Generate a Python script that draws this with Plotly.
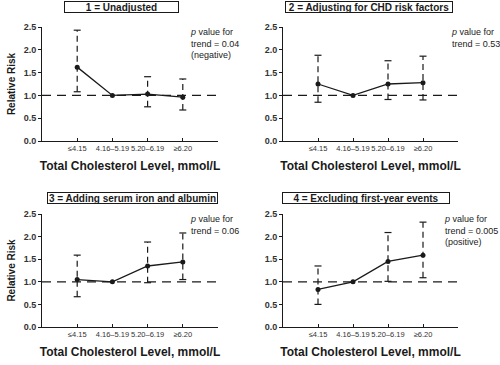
import plotly.graph_objects as go

categories = ["≤4.15", "4.16–5.19", "5.20–6.19", "≥6.20"]

panel_titles = [
    "1 = Unadjusted",
    "2 = Adjusting for CHD risk factors",
    "3 = Adding serum iron and albumin",
    "4 = Excluding first-year events",
]

rr1 = [1.62, 1.00, 1.03, 0.96]
lo1 = [1.08, None, 0.75, 0.68]
hi1 = [2.43, None, 1.41, 1.36]

rr2 = [1.25, 1.00, 1.25, 1.28]
lo2 = [0.85, None, 0.91, 0.90]
hi2 = [1.88, None, 1.76, 1.86]

rr3 = [1.05, 1.00, 1.35, 1.44]
lo3 = [0.67, None, 0.98, 1.05]
hi3 = [1.59, None, 1.88, 2.08]

rr4 = [0.83, 1.00, 1.45, 1.59]
lo4 = [0.50, None, 1.01, 1.09]
hi4 = [1.35, None, 2.09, 2.32]

p_texts = [
    "<i>p</i> value for<br>trend = 0.04<br>(negative)",
    "<i>p</i> value for<br>trend = 0.53",
    "<i>p</i> value for<br>trend = 0.06",
    "<i>p</i> value for<br>trend = 0.005<br>(positive)",
]

y_ticks = [0.0, 0.5, 1.0, 1.5, 2.0, 2.5]

W, H = 500, 365
INK = "#1a1a1a"
FONT = "Liberation Sans, Arial, sans-serif"

# pixel layout of each panel: (x0, x1, ytop, ybottom)
panels_px = [
    (42, 218, 27, 141),
    (283, 458, 27, 141),
    (42, 218, 214, 327),
    (283, 458, 214, 327),
]
box_px = [  # x0, x1, ycenter
    (64, 179, 7.5),
    (285, 453, 7.5),
    (47, 218, 198),
    (282, 450, 197.5),
]
ptext_px = [(188, 25), (449, 25), (188, 212), (442, 212)]

series = [(rr1, lo1, hi1), (rr2, lo2, hi2), (rr3, lo3, hi3), (rr4, lo4, hi4)]

fig = go.Figure()
xpos = list(range(len(categories)))

for i, (rr, lo, hi) in enumerate(series):
    n = "" if i == 0 else str(i + 1)
    xa, ya = "x" + n, "y" + n
    ex, ey = [], []
    cx, cy = [], []
    for k in range(len(categories)):
        if lo[k] is not None:
            ex += [xpos[k], xpos[k], None]
            ey += [lo[k], hi[k], None]
            cx += [xpos[k], xpos[k]]
            cy += [lo[k], hi[k]]
    fig.add_trace(go.Scatter(x=ex, y=ey, mode="lines", xaxis=xa, yaxis=ya,
                             line=dict(color=INK, width=1.2, dash="6px,4px"),
                             showlegend=False, hoverinfo="skip"))
    fig.add_trace(go.Scatter(x=cx, y=cy, mode="markers", xaxis=xa, yaxis=ya,
                             marker=dict(symbol="line-ew", size=5,
                                         line=dict(color=INK, width=1.2)),
                             showlegend=False, hoverinfo="skip"))
    fig.add_trace(go.Scatter(x=[-1, 4], y=[1.0, 1.0], mode="lines", xaxis=xa, yaxis=ya,
                             line=dict(color=INK, width=1.2, dash="9px,6px"),
                             showlegend=False, hoverinfo="skip"))
    fig.add_trace(go.Scatter(x=xpos, y=rr, mode="lines+markers", xaxis=xa, yaxis=ya,
                             line=dict(color=INK, width=1.3),
                             marker=dict(color=INK, size=5),
                             showlegend=False))

    x0, x1, yt, yb = panels_px[i]
    xkey = "xaxis" + n
    ykey = "yaxis" + n
    fig.layout[xkey] = dict(
        domain=[x0 / W, x1 / W], anchor=ya, range=[-1, 4], automargin=False,
        tickmode="array", tickvals=[0, 1, 2, 3, 4], ticktext=categories + [""],
        tickangle=0,
        ticks="inside", ticklen=3, tickcolor=INK, tickwidth=1,
        showline=True, linecolor=INK, linewidth=1, showgrid=False, zeroline=False,
        tickfont=dict(size=7.5, color="#333", family=FONT),
        title=dict(text="Total Cholesterol Level, mmol/L", standoff=9,
                   font=dict(size=12, color=INK, family=FONT, weight="bold")),
    )
    fig.layout[ykey] = dict(
        domain=[1 - yb / H, 1 - yt / H], anchor=xa, range=[0, 2.5], automargin=False,
        tickmode="array", tickvals=y_ticks, tickformat=".1f",
        ticks="outside", ticklen=3, tickcolor=INK, tickwidth=1,
        showline=True, linecolor=INK, linewidth=1, showgrid=False, zeroline=False,
        tickfont=dict(size=9, color="#333", family=FONT, weight="bold"),
        title=dict(text="Relative Risk" if i in (0, 2) else "", standoff=6,
                   font=dict(size=10, color=INK, family=FONT, weight="bold")),
    )

    bx0, bx1, byc = box_px[i]
    fig.add_annotation(xref="paper", yref="paper", x=(bx0 + bx1) / 2 / W, y=1 - byc / H,
                       xanchor="center", yanchor="middle", showarrow=False,
                       text="<b>" + panel_titles[i] + "</b>",
                       font=dict(size=10, color=INK, family=FONT),
                       width=bx1 - bx0 - 2, height=10, borderpad=0,
                       bordercolor=INK, borderwidth=1, bgcolor="white")
    px, py = ptext_px[i]
    fig.add_annotation(xref="paper", yref="paper", x=px / W, y=1 - py / H,
                       xanchor="left", yanchor="top", align="left", showarrow=False,
                       text=p_texts[i], font=dict(size=9, color="#222", family=FONT))

fig.update_layout(width=W, height=H, margin=dict(l=0, r=0, t=0, b=0),
                  paper_bgcolor="white", plot_bgcolor="white",
                  font=dict(family=FONT, color=INK))

fig.write_html("out.html", config={"displayModeBar": False},
               post_script="document.body.style.margin='0';document.body.style.overflow='hidden';")
